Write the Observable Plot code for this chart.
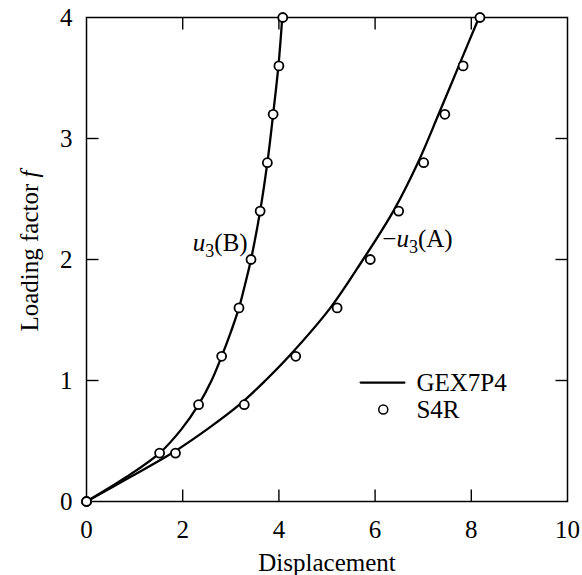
<!DOCTYPE html>
<html>
<head>
<meta charset="utf-8">
<script src="https://cdn.jsdelivr.net/npm/d3@7"></script>
<script src="https://cdn.jsdelivr.net/npm/@observablehq/plot@0.6"></script>
<style>
  body { margin: 0; background: #fff; }
  svg text { font-family: "Liberation Serif", "Times New Roman", serif !important; }
</style>
</head>
<body>
<div id="chart"></div>
<script>
// ---- Data ----
// GEX7P4 curves (loading factor f vs displacement)
const lineB_f = [0, 0.2, 0.4, 0.6, 0.8, 1.0, 1.2, 1.4, 1.6, 1.8, 2.0, 2.4, 2.8, 3.2, 3.6, 4.0];
const lineB_u = [0, 0.82, 1.52, 1.98, 2.33, 2.6, 2.81, 3.0, 3.17, 3.3, 3.42, 3.61, 3.76, 3.88, 3.99, 4.07];
const lineA_f = [0, 0.2, 0.4, 0.6, 0.8, 1.0, 1.2, 1.6, 2.0, 2.4, 2.8, 3.2, 3.6, 4.0];
const lineA_u = [0, 0.9, 1.78, 2.52, 3.18, 3.72, 4.21, 5.07, 5.75, 6.38, 6.89, 7.32, 7.74, 8.16];
// S4R points
const s4r_f  = [0, 0.4, 0.8, 1.2, 1.6, 2.0, 2.4, 2.8, 3.2, 3.6, 4.0];
const s4rB_u = [0, 1.52, 2.33, 2.81, 3.17, 3.42, 3.61, 3.76, 3.88, 4.00, 4.08];
const s4rA_u = [0, 1.85, 3.28, 4.35, 5.21, 5.90, 6.49, 7.01, 7.45, 7.83, 8.18];
// ticks
const xTicks = [0, 2, 4, 6, 8, 10];
const yTicks = [0, 1, 2, 3, 4];
const xInner = [2, 4, 6, 8];
const yInner = [1, 2, 3];
// curve labels
const labelB = [{x: 3.35, y: 2.07, text: "u3(B)"}];
const labelA = [{x: 6.15, y: 2.10, text: "−u3(A)"}];
// legend
const legendLine = [{x: 5.70, y: 0.983}, {x: 6.61, y: 0.983}];
const legendDot = [{x: 6.17, y: 0.76}];
const legendText = [{x: 6.86, y: 0.983, text: "GEX7P4"}, {x: 6.86, y: 0.76, text: "S4R"}];

const lineB = lineB_f.map((f, i) => ({x: lineB_u[i], y: f}));
const lineA = lineA_f.map((f, i) => ({x: lineA_u[i], y: f}));
const ptsB = s4r_f.map((f, i) => ({x: s4rB_u[i], y: f}));
const ptsA = s4r_f.map((f, i) => ({x: s4rA_u[i], y: f}));

const W = 582, H = 575, mL = 86, mR = 15, mT = 17, mB = 74;
const pw = W - mL - mR, ph = H - mT - mB, tl = 12;
const fs = 25;
const xDom = [0, 10], yDom = [0, 4];
const tlx = tl * (xDom[1] - xDom[0]) / pw;
const tly = tl * (yDom[1] - yDom[0]) / ph;

const xTickSegs = xInner.flatMap(v => [
  {x1: v, x2: v, y1: yDom[0], y2: yDom[0] + tly},
  {x1: v, x2: v, y1: yDom[1] - tly, y2: yDom[1]}
]);
const yTickSegs = yInner.flatMap(v => [
  {x1: xDom[0], x2: xDom[0] + tlx, y1: v, y2: v},
  {x1: xDom[1] - tlx, x2: xDom[1], y1: v, y2: v}
]);

const chart = Plot.plot({
  width: W, height: H,
  marginLeft: mL, marginRight: mR, marginTop: mT, marginBottom: mB,
  style: {background: "#fff", color: "#000"},
  x: {domain: xDom},
  y: {domain: yDom},
  marks: [
    Plot.frame({stroke: "#000", fill: "none", strokeWidth: 1.5}),
    Plot.axisX({ticks: xTicks, tickSize: 0, tickPadding: 19, fontSize: fs, label: null, tickFormat: d => String(d)}),
    Plot.axisY({ticks: yTicks, tickSize: 0, tickPadding: 14, fontSize: fs, label: null, tickFormat: d => String(d)}),
    Plot.link(xTickSegs, {x1: "x1", x2: "x2", y1: "y1", y2: "y2", stroke: "#000", strokeWidth: 1.4}),
    Plot.link(yTickSegs, {x1: "x1", x2: "x2", y1: "y1", y2: "y2", stroke: "#000", strokeWidth: 1.4}),
    Plot.line(lineB, {x: "x", y: "y", curve: "catmull-rom", stroke: "#000", strokeWidth: 2.3}),
    Plot.line(lineA, {x: "x", y: "y", curve: "catmull-rom", stroke: "#000", strokeWidth: 2.3}),
    Plot.dot(ptsB, {x: "x", y: "y", r: 4.5, stroke: "#000", fill: "#fff", strokeWidth: 1.8}),
    Plot.dot(ptsA, {x: "x", y: "y", r: 4.5, stroke: "#000", fill: "#fff", strokeWidth: 1.8}),
    Plot.text(labelB, {x: "x", y: "y", text: "text", textAnchor: "end", lineAnchor: "bottom", fontSize: fs, fill: "#000"}),
    Plot.text(labelA, {x: "x", y: "y", text: "text", textAnchor: "start", lineAnchor: "bottom", fontSize: fs, fill: "#000"}),
    Plot.line(legendLine, {x: "x", y: "y", stroke: "#000", strokeWidth: 2.3}),
    Plot.dot(legendDot, {x: "x", y: "y", r: 4.5, stroke: "#000", fill: "#fff", strokeWidth: 1.5}),
    Plot.text(legendText, {x: "x", y: "y", text: "text", textAnchor: "start", lineAnchor: "middle", fontSize: fs, fill: "#000"}),
    Plot.text(["Displacement"], {frameAnchor: "bottom", dy: 69, lineAnchor: "bottom", fontSize: fs, fill: "#000"}),
    Plot.text(["Loading factor f"], {y: [2.07], frameAnchor: "left", dx: -57, rotate: -90, lineAnchor: "middle", textAnchor: "middle", fontSize: fs, fill: "#000"})
  ]
});

// rich text: italic variables and subscripts
const NS = "http://www.w3.org/2000/svg";
function ts(parent, txt, attrs) {
  const t = document.createElementNS(NS, "tspan");
  for (const k in attrs) t.setAttribute(k, attrs[k]);
  t.textContent = txt;
  parent.appendChild(t);
}
chart.querySelectorAll("text").forEach(el => {
  el.setAttribute("font-family", "Liberation Serif");
  el.style.fontSize = fs + "px";
  const s = el.textContent;
  if (s === "u3(B)" || s === "−u3(A)") {
    const pre = s.startsWith("−") ? "−" : "";
    const rest = s.slice(pre.length + 2);
    while (el.firstChild) el.removeChild(el.firstChild);
    if (pre) ts(el, pre, {});
    ts(el, "u", {"font-style": "italic"});
    ts(el, "3", {"font-size": "18px", dy: "6"});
    ts(el, rest, {dy: "-6"});
  } else if (s === "Loading factor f") {
    while (el.firstChild) el.removeChild(el.firstChild);
    ts(el, "Loading factor ", {});
    ts(el, "f", {"font-style": "italic"});
  }
});

document.getElementById("chart").appendChild(chart);
</script>
</body>
</html>
